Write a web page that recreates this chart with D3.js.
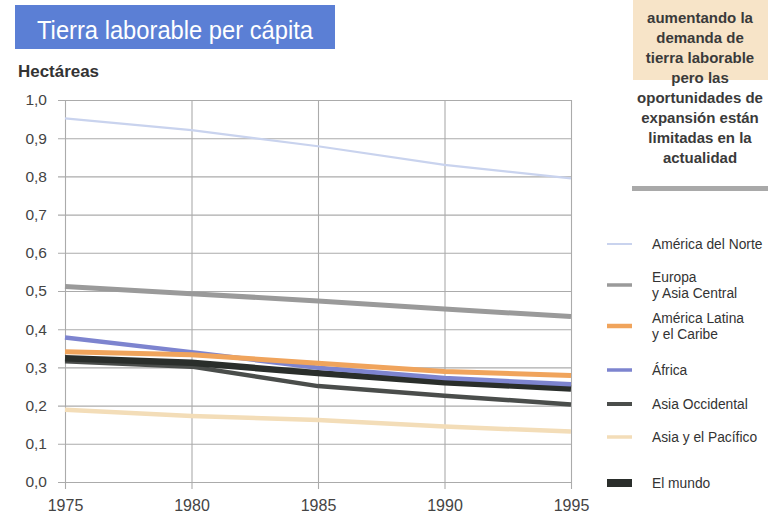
<!DOCTYPE html>
<html>
<head>
<meta charset="utf-8">
<script src="https://cdn.jsdelivr.net/npm/d3@7/dist/d3.min.js"></script>
<style>
  html, body { margin: 0; padding: 0; background: #ffffff; }
  svg { display: block; }
</style>
</head>
<body>
<svg id="chart" width="768" height="513"></svg>
<script>
// Arable land per capita, hectares, 1975–1995
const years = [1975, 1980, 1985, 1990, 1995];
const yTicks = [0, 0.1, 0.2, 0.3, 0.4, 0.5, 0.6, 0.7, 0.8, 0.9, 1.0];

const northAmerica   = [0.952, 0.921, 0.879, 0.830, 0.795];
const europeCentral  = [0.512, 0.493, 0.474, 0.453, 0.433];
const latinAmerica   = [0.341, 0.333, 0.311, 0.289, 0.279];
const africa         = [0.378, 0.340, 0.299, 0.272, 0.256];
const westAsia       = [0.316, 0.302, 0.251, 0.226, 0.203];
const asiaPacific    = [0.189, 0.173, 0.162, 0.145, 0.132];
const world          = [0.324, 0.312, 0.285, 0.261, 0.245];

const seriesNames = ["América del Norte", "Europa\ny Asia Central", "América Latina\ny el Caribe",
                     "África", "Asia Occidental", "Asia y el Pacífico", "El mundo"];

const sideText = ["aumentando la", "demanda de", "tierra laborable",
                  "pero las", "oportunidades de", "expansión están", "limitadas en la", "actualidad"];

const series = [
  { name: seriesNames[0], values: northAmerica,  color: "#c9d3ee", width: 2.2, legendY: 244, sw: 2 },
  { name: seriesNames[1], values: europeCentral, color: "#9a9a9a", width: 5,   legendY: 285, sw: 3.5 },
  { name: seriesNames[2], values: latinAmerica,  color: "#f0a45c", width: 5,   legendY: 326, sw: 4.5 },
  { name: seriesNames[3], values: africa,        color: "#7d84cf", width: 4.5, legendY: 370, sw: 3.5 },
  { name: seriesNames[4], values: westAsia,      color: "#4a4d4b", width: 4.5, legendY: 404, sw: 4 },
  { name: seriesNames[5], values: asiaPacific,   color: "#f3ddb8", width: 4.5, legendY: 437, sw: 3.5 },
  { name: seriesNames[6], values: world,         color: "#2a2e2b", width: 6.5, legendY: 483, sw: 8 }
];
const drawOrder = [0, 1, 5, 4, 6, 3, 2];

const svg = d3.select("#chart");
const x = d3.scaleLinear().domain([1975, 1995]).range([65, 571]);
const y = d3.scaleLinear().domain([0, 1]).range([482, 100]);
const fmt = d => d.toFixed(1).replace(".", ",");

// Title banner
svg.append("rect").attr("x", 15).attr("y", 5).attr("width", 320).attr("height", 44).attr("fill", "#5b7fd5");
svg.append("text").attr("x", 37).attr("y", 39)
  .attr("font-family", "'Liberation Sans Narrow', 'Liberation Sans', Arial, sans-serif")
  .attr("font-size", 26).attr("fill", "#ffffff")
  .attr("textLength", 276).attr("lengthAdjust", "spacingAndGlyphs")
  .text("Tierra laborable per cápita");

// Unit label
svg.append("text").attr("x", 18).attr("y", 77)
  .attr("font-family", "'Liberation Sans Narrow', 'Liberation Sans', Arial, sans-serif")
  .attr("font-weight", "bold").attr("font-size", 16).attr("fill", "#333")
  .attr("textLength", 81).attr("lengthAdjust", "spacingAndGlyphs")
  .text("Hectáreas");

// Y axis with horizontal gridlines
const yAxis = svg.append("g").attr("transform", `translate(${x(1975)},0)`)
  .call(d3.axisLeft(y).tickValues(yTicks).tickFormat(fmt).tickSize(-(x(1995) - x(1975))).tickSizeOuter(0));
yAxis.select(".domain").remove();
yAxis.selectAll(".tick line").attr("x1", -7).attr("stroke", "#ababab").attr("stroke-width", 1.1);
yAxis.selectAll(".tick text").attr("x", -18).attr("font-family", "'Liberation Sans', Arial, sans-serif")
  .attr("font-size", 15.5).attr("fill", "#444");

// X axis with vertical gridlines
const xAxis = svg.append("g").attr("transform", `translate(0,${y(0)})`)
  .call(d3.axisBottom(x).tickValues(years).tickFormat(d3.format("d")).tickSize(-(y(0) - y(1))).tickSizeOuter(0));
xAxis.select(".domain").remove();
xAxis.selectAll(".tick line").attr("y1", 7).attr("stroke", "#ababab").attr("stroke-width", 1.1);
xAxis.selectAll(".tick text").attr("y", 18).attr("font-family", "'Liberation Sans', Arial, sans-serif")
  .attr("font-size", 16).attr("fill", "#444");

// Series lines
const line = d3.line().x((d, i) => x(years[i])).y(d => y(d));
svg.append("g").selectAll("path").data(drawOrder.map(i => series[i])).join("path")
  .attr("d", d => line(d.values))
  .attr("fill", "none").attr("stroke", d => d.color).attr("stroke-width", d => d.width)
  .attr("stroke-linejoin", "round");

// Legend
const legend = svg.append("g");
series.forEach(s => {
  legend.append("line").attr("x1", 607).attr("x2", 632).attr("y1", s.legendY).attr("y2", s.legendY)
    .attr("stroke", s.color).attr("stroke-width", s.sw);
  const parts = s.name.split("\n");
  const t = legend.append("text").attr("font-family", "'Liberation Sans', Arial, sans-serif")
    .attr("font-size", 13.8).attr("fill", "#333");
  const y0 = s.legendY + 5 - (parts.length - 1) * 8;
  parts.forEach((p, k) => t.append("tspan").attr("x", 652).attr("y", y0 + k * 16).text(p));
});

// Side note
svg.append("rect").attr("x", 633).attr("y", 0).attr("width", 135).attr("height", 80).attr("fill", "#f7e4c8");
svg.append("rect").attr("x", 632).attr("y", 186).attr("width", 136).attr("height", 5).attr("fill", "#a9a9a9");
const note = svg.append("text").attr("text-anchor", "middle")
  .attr("font-family", "'Liberation Sans Narrow', 'Liberation Sans', Arial, sans-serif")
  .attr("font-weight", "bold").attr("font-size", 15).attr("fill", "#3a3a3a");
sideText.forEach((l, k) => note.append("tspan").attr("x", 700).attr("y", 23 + k * 20).text(l));
</script>
</body>
</html>
